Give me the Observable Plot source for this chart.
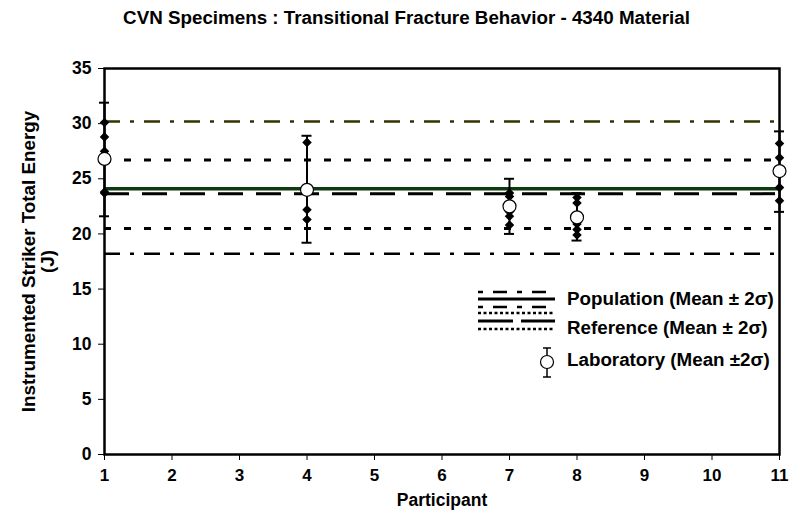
<!DOCTYPE html>
<html><head><meta charset="utf-8">
<script src="https://cdn.jsdelivr.net/npm/d3@7"></script>
<script src="https://cdn.jsdelivr.net/npm/@observablehq/plot@0.6"></script>
<style>
body{margin:0;background:#fff;font-family:"Liberation Sans",Arial,sans-serif;}
#wrap{position:relative;width:803px;height:525px;overflow:hidden;}
#title{height:36px;line-height:36px;text-align:center;font-weight:bold;font-size:18.8px;padding-left:10px;box-sizing:border-box;color:#000;white-space:nowrap;}
#legend{position:absolute;left:0;top:0;pointer-events:none;}
</style></head>
<body><div id="wrap"><div id="title">CVN Specimens : Transitional Fracture Behavior - 4340 Material</div><div id="chart"></div><svg id="legend" width="803" height="525"></svg></div>
<script>
// ---- data ----
const xTicks = [1,2,3,4,5,6,7,8,9,10,11];
const yTicks = [0,5,10,15,20,25,30,35];
const participants = [1, 4, 7, 8, 11];
const labMean = [26.8, 24.0, 22.5, 21.5, 25.7];
const labHigh = [31.9, 28.9, 25.0, 23.7, 29.3];
const labLow  = [21.6, 19.2, 20.0, 19.4, 22.0];
const energies1  = [30.1, 28.8, 27.5, 23.8, 23.7];
const energies4  = [28.3, 22.2, 21.3];
const energies7  = [23.7, 23.4, 22.0, 21.6, 20.8];
const energies8  = [23.3, 22.8, 20.9, 20.4, 19.9];
const energies11 = [28.2, 26.9, 24.2, 23.0];
const populationMean = 24.1, populationUpper = 30.2, populationLower = 18.2;
const referenceMean = 23.65, referenceUpper = 26.7, referenceLower = 20.5;

// ---- tables ----
const labs = participants.map((p, i) => ({p, mean: labMean[i], hi: labHigh[i], lo: labLow[i]}));
const specimenSets = [energies1, energies4, energies7, energies8, energies11];
const specimens = participants.flatMap((p, i) => specimenSets[i].map(e => ({p, e})));

const font = '"Liberation Sans", Arial, sans-serif';
const chart = Plot.plot({
  width: 803, height: 489,
  marginLeft: 104, marginRight: 24, marginTop: 32, marginBottom: 71,
  style: {fontFamily: font, fontSize: "17px", fontWeight: "bold", color: "black", background: "white", overflow: "visible"},
  x: {domain: [1, 11]},
  y: {domain: [0, 35]},
  marks: [
    Plot.ruleY([populationUpper], {stroke: "#333300", strokeWidth: 2.5, strokeDasharray: "16,10,4,10"}),
    Plot.ruleY([populationLower], {stroke: "black", strokeWidth: 2.5, strokeDasharray: "16,10,4,10"}),
    Plot.ruleY([referenceUpper], {stroke: "black", strokeWidth: 3, strokeDasharray: "7,13"}),
    Plot.ruleY([referenceLower], {stroke: "black", strokeWidth: 3, strokeDasharray: "7,13"}),
    Plot.ruleY([referenceMean], {stroke: "black", strokeWidth: 3, strokeDasharray: "25,13"}),
    Plot.ruleY([populationMean], {stroke: "#0f3a0f", strokeWidth: 3.5}),
    Plot.axisX({ticks: xTicks, tickSize: 6, tickPadding: 8, tickFormat: d => d, label: null, fontSize: 17, fontWeight: "bold"}),
    Plot.axisY({ticks: yTicks, tickSize: 6, tickPadding: 7, label: null, fontSize: 17.5, fontWeight: "bold"}),
    Plot.frame({stroke: "black", strokeWidth: 2.5}),
    Plot.ruleX(labs, {x: "p", y1: "lo", y2: "hi", stroke: "black", strokeWidth: 2}),
    Plot.ruleY(labs, {y: "hi", x1: "p", x2: "p", insetLeft: -5, insetRight: -5, stroke: "black", strokeWidth: 2}),
    Plot.ruleY(labs, {y: "lo", x1: "p", x2: "p", insetLeft: -5, insetRight: -5, stroke: "black", strokeWidth: 2}),
    Plot.dot(specimens, {x: "p", y: "e", symbol: "diamond2", fill: "black", stroke: "none", r: 4.3}),
    Plot.dot(labs, {x: "p", y: "mean", r: 6.5, fill: "white", stroke: "black", strokeWidth: 1.2}),
    Plot.text(["Instrumented Striker Total Energy\n(J)"], {frameAnchor: "left", rotate: -90, dx: -66, textAnchor: "middle", lineAnchor: "middle", lineHeight: 1.02, fontSize: 18.8, fontWeight: "bold", fill: "black"}),
    Plot.text(["Participant"], {frameAnchor: "bottom", dy: 46, lineAnchor: "middle", fontSize: 17.5, fontWeight: "bold", fill: "black"})
  ]
});
document.getElementById("chart").appendChild(chart);

// ---- legend (overlay) ----
const lg = d3.select("#legend");
const lx1 = 478, lx2 = 555;
function hline(y, dash, w, color) {
  lg.append("line").attr("x1", lx1).attr("x2", lx2).attr("y1", y).attr("y2", y)
    .attr("stroke", color || "black").attr("stroke-width", w).attr("stroke-dasharray", dash || null);
}
hline(292, "5,10,14,10", 2.5);
hline(299, null, 3);
hline(307, "5,10,14,10", 2.5);
hline(313, "3,2.5", 2.5);
hline(321, "35,8", 3);
hline(329, "3,2.5", 2.5);
const cx = 547;
lg.append("line").attr("x1", cx).attr("x2", cx).attr("y1", 348).attr("y2", 377).attr("stroke", "black").attr("stroke-width", 1.5);
lg.append("line").attr("x1", cx - 4).attr("x2", cx + 4).attr("y1", 348).attr("y2", 348).attr("stroke", "black").attr("stroke-width", 1.5);
lg.append("line").attr("x1", cx - 4).attr("x2", cx + 4).attr("y1", 377).attr("y2", 377).attr("stroke", "black").attr("stroke-width", 1.5);
lg.append("circle").attr("cx", cx).attr("cy", 362).attr("r", 6.5).attr("fill", "white").attr("stroke", "black").attr("stroke-width", 1.2);
const labels = ["Population (Mean \u00b1 2\u03c3)", "Reference (Mean \u00b1 2\u03c3)", "Laboratory (Mean \u00b12\u03c3)"];
const labelY = [298, 327, 359];
labels.forEach((t, i) => {
  lg.append("text").attr("x", 567).attr("y", labelY[i]).attr("dy", "0.35em")
    .attr("font-family", font).attr("font-size", 18.8).attr("font-weight", "bold").attr("fill", "black").text(t);
});
</script>
</body></html>
